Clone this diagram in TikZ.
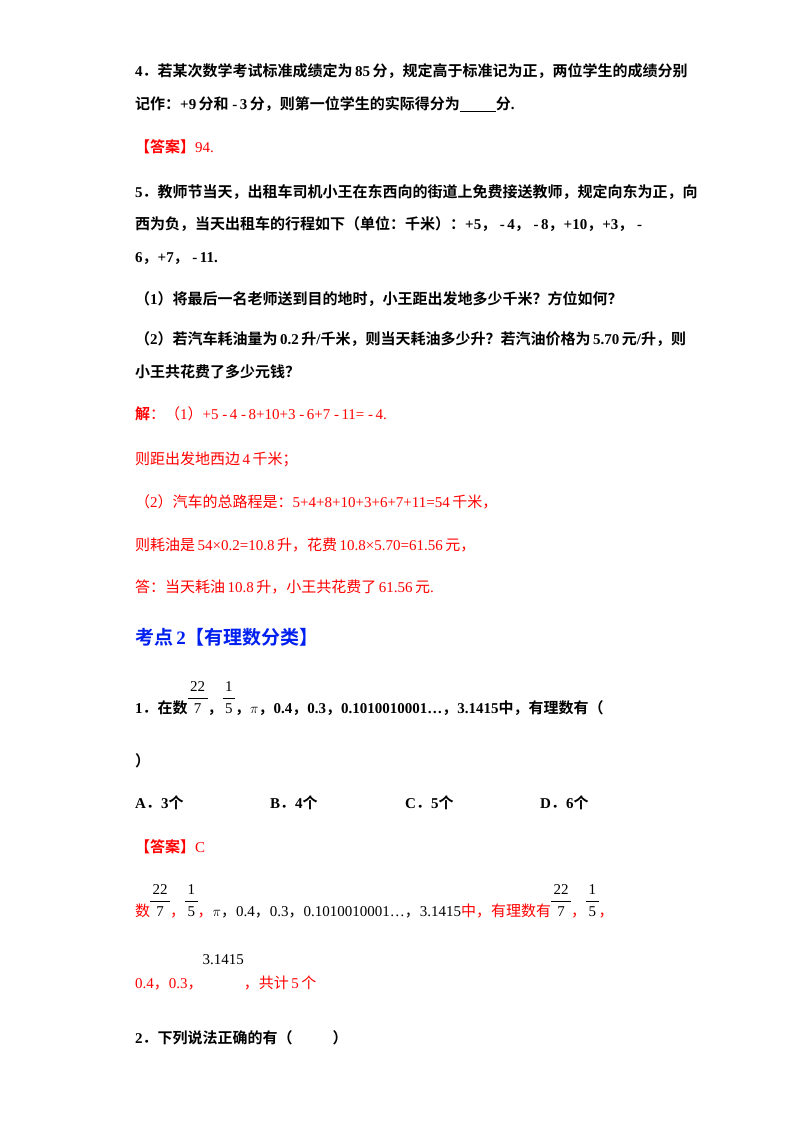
\documentclass[tikz,border=0pt]{standalone}
\usepackage{fontspec}
\usepackage{amsmath}
\setmainfont{Liberation Serif}
\newfontfamily\cjk{Noto Sans CJK SC}[BoldFont={Noto Sans CJK SC Bold}]
\newcommand\zh[1]{{\cjk #1}}
\newcommand\mi{\ -\,}
\newcommand\fr[2]{{\mdseries\renewcommand\arraystretch{1.25}\begin{tabular}[b]{@{\,}c@{\,}}#1\\\hline #2\end{tabular}}}
\begin{document}
\begin{tikzpicture}[x=1pt,y=-1pt,
  t/.style={anchor=base west,inner sep=0pt,font=\fontsize{15}{17}\selectfont},
  q/.style={t,font=\fontsize{15}{17}\selectfont\bfseries},
  r/.style={t,text=red}]
\useasboundingbox[fill=white] (0,0) rectangle (800,1132);
\node[q] (l1) at (135,77) {4\zh{．}\zh{若某次数学考试标准成绩定为}\,85\,\zh{分，规定高于标准记为正，两位学生的成绩分别}};
\node[q] (l2) at (135,109) {\zh{记作：}+9\,\zh{分和}\mi3\,\zh{分，则第一位学生的实际得分为}\underline{\hspace{36pt}}\zh{分}.};
\node[r] (l3) at (135,152) {\textbf{\zh{【答案】}}94.};
\node[q] (l4) at (135,197) {5\zh{．}\zh{教师节当天，出租车司机小王在东西向的街道上免费接送教师，规定向东为正，向}};
\node[q] (l5) at (135,229) {\zh{西为负，当天出租车的行程如下（单位：千米）：}+5\zh{，}\mi4\zh{，}\mi8\zh{，}+10\zh{，}+3\zh{，}\mi};
\node[q] (l6) at (135,262) {6\zh{，}+7\zh{，}\mi11.};
\node[q] (l7) at (135,304) {\zh{（}1\zh{）将最后一名老师送到目的地时，小王距出发地多少千米？方位如何？}};
\node[q] (l8) at (135,344) {\zh{（}2\zh{）若汽车耗油量为}\,0.2\,\zh{升}/\zh{千米，则当天耗油多少升？若汽油价格为}\,5.70\,\zh{元}/\zh{升，则}};
\node[q] (l9) at (135,377) {\zh{小王共花费了多少元钱？}};
\node[r] (l10) at (135,419) {\textbf{\zh{解}}\zh{：（}1\zh{）}+5\mi4\mi8+10+3\mi6+7\mi11=\mi4.};
\node[r] (l11) at (135,464) {\zh{则距出发地西边}\,4\,\zh{千米；}};
\node[r] (l12) at (135,507) {\zh{（}2\zh{）汽车的总路程是：}5+4+8+10+3+6+7+11=54\,\zh{千米，}};
\node[r] (l13) at (135,550) {\zh{则耗油是}\,54×0.2=10.8\,\zh{升，花费}\,10.8×5.70=61.56\,\zh{元，}};
\node[r] (l14) at (135,592) {\zh{答：当天耗油}\,10.8\,\zh{升，小王共花费了}\,61.56\,\zh{元}.};
\node[t,text={rgb,255:red,0;green,32;blue,240},font=\fontsize{19}{22}\selectfont\bfseries] (h) at (135,644) {\zh{考点}\,2\zh{【有理数分类】}};
\node[q] (p1) at (135,713) {1\zh{．}\zh{在数}\fr{22}{7}\zh{，}\fr{1}{5}\zh{，}$\pi$\zh{，}0.4\zh{，}0.3\zh{，}0.1010010001…\zh{，}3.1415\zh{中，有理数有（}};
\node[q] (p2) at (135,766) {\zh{）}};
\node[q] (oa) at (135,808) {A\zh{．}3\zh{个}};
\node[q] (ob) at (270,808) {B\zh{．}4\zh{个}};
\node[q] (oc) at (405,808) {C\zh{．}5\zh{个}};
\node[q] (od) at (540,808) {D\zh{．}6\zh{个}};
\node[r] (a1) at (135,852) {\textbf{\zh{【答案】}}C};
\node[r] (a2) at (135,916) {\zh{数}\textcolor{black}{\fr{22}{7}}\zh{，}\textcolor{black}{\fr{1}{5}}\zh{，}\textcolor{black}{$\pi$\zh{，}0.4\zh{，}0.3\zh{，}0.1010010001…\zh{，}3.1415}\zh{中，有理数有}\textcolor{black}{\fr{22}{7}}\zh{，}\textcolor{black}{\fr{1}{5}}\zh{，}};
\node[r] (a3) at (135,988) {0.4\zh{，}0.3\zh{，}\raisebox{24pt}{\textcolor{black}{3.1415}}\zh{，共计}\,5\,\zh{个}};
\node[q] (p3) at (135,1043) {2\zh{．}\zh{下列说法正确的有（}\hspace{40pt}\zh{）}};
\end{tikzpicture}
\end{document}
